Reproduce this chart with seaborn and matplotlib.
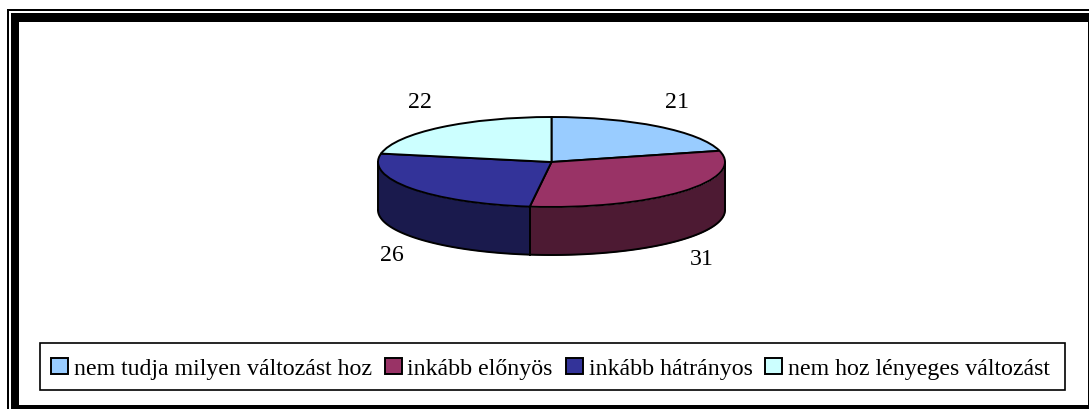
import numpy as np
import matplotlib
matplotlib.use("Agg")
import matplotlib.pyplot as plt
from matplotlib.patches import Rectangle
import seaborn as sns

categories = ["nem tudja milyen változást hoz", "inkább előnyös", "inkább hátrányos", "nem hoz lényeges változást"]
values = [21, 31, 26, 22]
top_colors = ["#99CCFF", "#993366", "#333399", "#CCFFFF"]
side_colors = ["#4D6680", "#4D1A33", "#1A1A4D", "#668080"]

W, H = 1089, 410
CX, CY, RX, RY, DEPTH = 551.5, 163, 173.5, 45, 48
FS = 17.2

sns.set_theme(style="white")
plt.rcParams["font.family"] = ["Liberation Serif", "DejaVu Serif"]
palette = sns.color_palette(top_colors)
fig = plt.figure(figsize=(W / 100, H / 100), dpi=100, facecolor="white")

# pie axes: one data unit is RX px across, RY px down, so the circle is seen in perspective
ax = fig.add_axes([0, 0, 1, 1])
wedges, _ = ax.pie(values, colors=palette, startangle=90, counterclock=False,
                   wedgeprops=dict(edgecolor="black", linewidth=1.4))
for w in wedges:
    w.set_zorder(3)
ax.set_aspect("auto")
ax.set_xlim(-CX / RX, (W - CX) / RX)
ax.set_ylim((CY - H) / RY, CY / RY)
ax.axis("off")

# side wall, from the same shares of the circle
d = DEPTH / RY
edges = np.cumsum([0] + values) / sum(values) * 360
for i, col in enumerate(side_colors):
    a0, a1 = max(edges[i], 90), min(edges[i + 1], 270)
    if a1 <= a0:
        continue
    t = np.radians(np.linspace(a0, a1, 100))
    x, y = np.sin(t), np.cos(t)
    ax.fill_between(x, y - d, y, color=col, linewidth=0, zorder=1)
    ax.plot(x, y - d, color="black", lw=1.4, zorder=2)
    ax.plot([x[0], x[0]], [y[0], y[0] - d], color="black", lw=1.4, zorder=2)
    ax.plot([x[-1], x[-1]], [y[-1], y[-1] - d], color="black", lw=1.4, zorder=2)

# overlay in pixel units: frame, value labels, legend
ov = fig.add_axes([0, 0, 1, 1], facecolor="none")
ov.set_xlim(0, W)
ov.set_ylim(H, 0)
ov.axis("off")
for x0, y0, w, h in [(7, 10, 1.5, 400), (7, 10, 1082, 1.5), (11, 14, 1078, 8.5),
                     (11, 14, 8, 396), (11, 406, 1078, 3.5), (1087.5, 14, 1.5, 396)]:
    ov.add_patch(Rectangle((x0, y0), w, h, facecolor="black", edgecolor="none"))

label_xy = [(677, 103), (702, 259.5), (392, 255.5), (420, 103)]
for v, (x, y) in zip(values, label_xy):
    ov.text(x, y, str(v), fontsize=FS, color="black", ha="center", va="center")

ov.add_patch(Rectangle((40, 344), 1025, 47, facecolor="white", edgecolor="black", linewidth=1.2))
leg = ov.legend(wedges, categories, ncols=4, loc="center",
                bbox_to_anchor=(550.5 / W, 1 - 369.5 / H),
                borderaxespad=0, borderpad=0, fontsize=FS, frameon=False, labelcolor="black",
                handlelength=0.71, handleheight=0.71, handletextpad=0.25, columnspacing=0.54)

fig.savefig("out.png", dpi=100)
